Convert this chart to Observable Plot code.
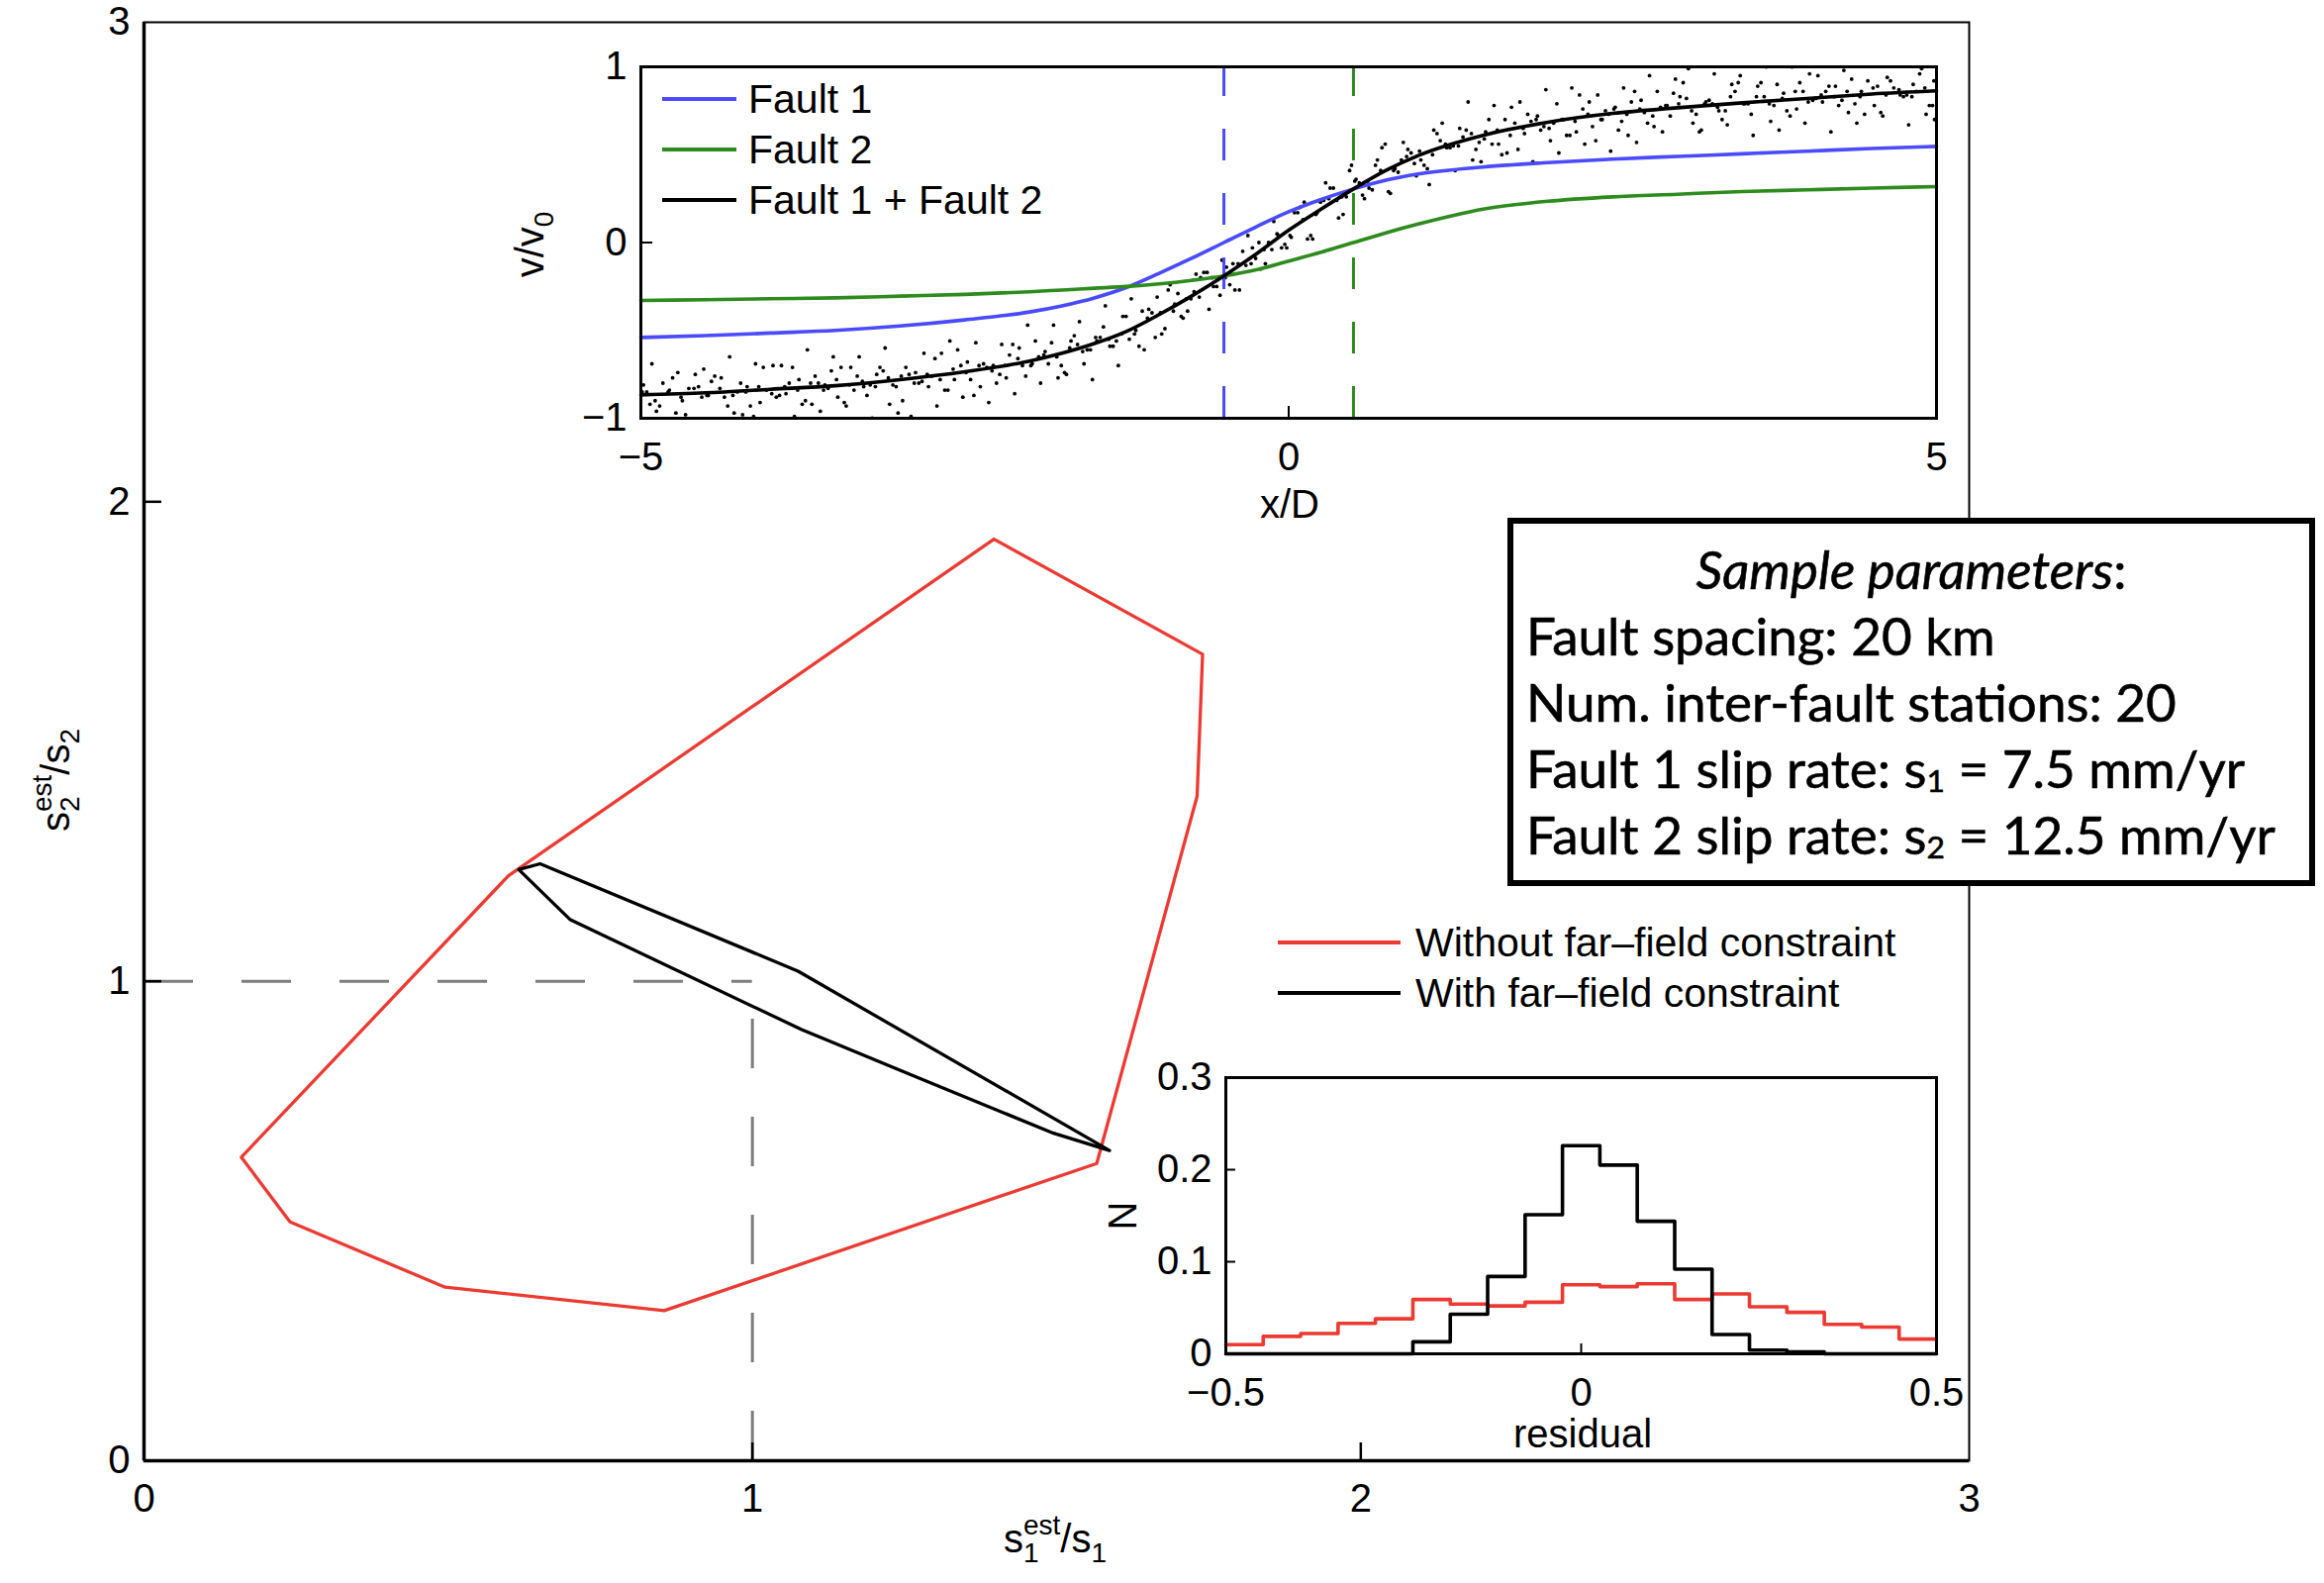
<!DOCTYPE html>
<html><head><meta charset="utf-8">
<script src="https://cdn.jsdelivr.net/npm/d3@7"></script>
<script src="https://cdn.jsdelivr.net/npm/@observablehq/plot@0.6"></script>
<style>
html,body{margin:0;padding:0;background:#fff;}
#wrap{position:relative;width:2348px;height:1599px;overflow:hidden;background:#fff;}
#wrap svg{position:absolute;left:0;top:0;max-width:none;}
.leg{position:absolute;display:flex;align-items:center;height:44px;font-family:"Liberation Sans",Arial,sans-serif;font-size:41px;color:#000;white-space:nowrap;}
.leg span.ln{display:inline-block;height:3.5px;}
.box{position:absolute;left:1523px;top:523px;width:816px;height:372px;box-sizing:border-box;border:6px solid #000;background:#fff;
 font-family:Lato,"Open Sans",sans-serif;font-size:53px;line-height:67px;color:#000;padding:12px 0 0 13px;white-space:nowrap;
 -webkit-text-stroke:0.6px #000;}
.box .t{text-align:center;font-style:italic;padding-right:13px;}
.box sub{font-size:0.6em;vertical-align:-0.12em;line-height:0;}
</style>
</head><body>
<div id="wrap"></div>
<script>
// ---------------- data ----------------
// main panel: estimated slip-rate ratio regions
const mainTicks = [0, 1, 2, 3];
const withoutS1 = [1.397, 1.740, 1.731, 1.566, 0.855, 0.495, 0.240, 0.160, 0.599];
const withoutS2 = [1.922, 1.682, 1.386, 0.620, 0.313, 0.362, 0.498, 0.633, 1.220];
const withS1 = [0.616, 0.651, 1.075, 1.587, 1.495, 1.266, 1.081, 0.700];
const withS2 = [1.233, 1.245, 1.021, 0.647, 0.683, 0.802, 0.899, 1.129];
const trueRatio = [1, 1];

// top inset: velocity profiles
const profileX = [-5,-4.5,-4,-3.5,-3,-2.5,-2,-1.75,-1.5,-1.25,-1,-0.75,-0.5,-0.25,0,0.25,0.5,0.75,1,1.5,2,2.5,3,3.5,4,4.5,5];
const fault1V = [-0.54,-0.53,-0.515,-0.50,-0.475,-0.44,-0.395,-0.36,-0.315,-0.255,-0.175,-0.09,0.0,0.09,0.175,0.245,0.305,0.355,0.39,0.43,0.455,0.475,0.49,0.505,0.52,0.535,0.547];
const fault2V = [-0.33,-0.325,-0.32,-0.315,-0.305,-0.295,-0.28,-0.27,-0.26,-0.25,-0.235,-0.215,-0.19,-0.155,-0.105,-0.055,0.0,0.055,0.105,0.19,0.235,0.26,0.275,0.29,0.30,0.31,0.318];
const sumV = [-0.867,-0.855,-0.835,-0.815,-0.78,-0.735,-0.675,-0.63,-0.575,-0.505,-0.41,-0.305,-0.19,-0.065,0.07,0.19,0.305,0.41,0.495,0.61,0.685,0.735,0.767,0.795,0.82,0.845,0.863];
const faultLocations = [-0.5, 0.5];
const insetXTicks = [-5, 0, 5];
const insetYTicks = [-1, 0, 1];
const stations = [
[-4.98,-0.81],[-4.955,-0.85],[-4.93,-0.92],[-4.88,-0.96],[-4.855,-0.93],[-4.83,-0.80],[-4.78,-0.84],[-4.755,-0.77],[-4.73,-0.97],
[-4.68,-0.90],[-4.655,-0.98],[-4.63,-0.83],[-4.58,-0.75],[-4.555,-0.82],[-4.53,-0.88],[-4.48,-0.87],[-4.455,-0.79],[-4.43,-0.76],
[-4.38,-0.77],[-4.355,-0.88],[-4.33,-0.93],[-4.28,-0.97],[-4.255,-0.85],[-4.23,-0.80],[-4.18,-0.82],[-4.155,-0.93],[-4.13,-0.99],
[-4.08,-0.91],[-4.055,-0.71],[-4.03,-0.84],[-3.98,-0.70],[-3.955,-0.88],[-3.93,-0.87],[-3.88,-0.86],[-3.855,-0.80],[-3.83,-0.71],
[-3.78,-0.78],[-3.755,-0.92],[-3.73,-0.90],[-3.68,-0.92],[-3.655,-0.76],[-3.63,-0.80],[-3.58,-0.81],[-3.555,-0.83],[-3.53,-0.73],
[-3.48,-0.88],[-3.455,-0.71],[-3.43,-0.91],[-3.38,-0.71],[-3.355,-0.84],[-3.33,-0.76],[-3.28,-0.82],[-3.255,-0.87],[-3.23,-0.81],
[-3.18,-0.75],[-3.155,-0.71],[-3.13,-0.73],[-3.08,-0.92],[-3.055,-0.81],[-3.03,-0.82],[-2.98,-0.90],[-2.955,-0.71],[-2.93,-0.75],
[-2.88,-0.74],[-2.855,-0.80],[-2.83,-0.79],[-2.78,-0.82],[-2.755,-0.76],[-2.73,-0.66],[-2.68,-0.63],[-2.655,-0.84],[-2.63,-0.84],
[-2.58,-0.78],[-2.555,-0.61],[-2.53,-0.70],[-2.48,-0.68],[-2.455,-0.78],[-2.43,-0.87],[-2.38,-0.82],[-2.355,-0.69],[-2.33,-0.71],
[-2.28,-0.70],[-2.255,-0.80],[-2.23,-0.75],[-2.18,-0.77],[-2.155,-0.64],[-2.13,-0.58],[-2.08,-0.60],[-2.055,-0.70],[-2.03,-0.76],
[-1.98,-0.69],[-1.955,-0.56],[-1.93,-0.65],[-1.88,-0.62],[-1.855,-0.69],[-1.83,-0.57],[-1.78,-0.77],[-1.755,-0.70],[-1.73,-0.74],
[-1.68,-0.56],[-1.655,-0.53],[-1.63,-0.58],[-1.58,-0.69],[-1.555,-0.61],[-1.53,-0.61],[-1.48,-0.56],[-1.455,-0.54],[-1.43,-0.48],
[-1.38,-0.59],[-1.355,-0.59],[-1.33,-0.56],[-1.28,-0.42],[-1.255,-0.42],[-1.23,-0.55],[-1.18,-0.50],[-1.155,-0.59],[-1.13,-0.39],
[-1.08,-0.38],[-1.055,-0.40],[-1.03,-0.54],[-0.98,-0.52],[-0.955,-0.49],[-0.93,-0.27],[-0.88,-0.35],[-0.855,-0.29],[-0.83,-0.42],
[-0.78,-0.39],[-0.755,-0.32],[-0.73,-0.28],[-0.68,-0.20],[-0.655,-0.17],[-0.63,-0.17],[-0.58,-0.25],[-0.555,-0.25],[-0.53,-0.30],
[-0.48,-0.14],[-0.455,-0.24],[-0.43,-0.12],[-0.38,-0.27],[-0.355,-0.05],[-0.33,-0.13],[-0.28,-0.03],[-0.255,-0.09],[-0.23,0.00],
[-0.18,-0.12],[-0.155,0.00],[-0.13,-0.04],[-0.08,0.04],[-0.055,-0.03],[-0.03,-0.01],[0.02,0.03],[0.045,0.17],[0.07,0.17],
[0.12,0.23],[0.145,0.02],[0.17,0.04],[0.22,0.17],[0.245,0.23],[0.27,0.24],[0.32,0.31],[0.345,0.31],[0.37,0.24],
[0.42,0.16],[0.445,0.26],[0.47,0.41],[0.52,0.36],[0.545,0.34],[0.57,0.27],[0.62,0.31],[0.645,0.30],[0.67,0.44],
[0.72,0.54],[0.745,0.56],[0.77,0.29],[0.82,0.42],[0.845,0.40],[0.87,0.47],[0.92,0.53],[0.945,0.51],[0.97,0.45],
[1.02,0.47],[1.045,0.44],[1.07,0.42],[1.12,0.64],[1.145,0.62],[1.17,0.58],[1.22,0.54],[1.245,0.54],[1.27,0.55],
[1.32,0.65],[1.345,0.60],[1.37,0.64],[1.42,0.47],[1.445,0.53],[1.47,0.57],[1.52,0.63],[1.545,0.70],[1.57,0.56],
[1.62,0.56],[1.645,0.50],[1.67,0.70],[1.72,0.77],[1.745,0.68],[1.77,0.53],[1.82,0.62],[1.845,0.73],[1.87,0.69],
[1.92,0.72],[1.945,0.64],[1.97,0.66],[2.02,0.58],[2.045,0.68],[2.07,0.79],[2.12,0.70],[2.145,0.61],[2.17,0.61],
[2.22,0.63],[2.245,0.84],[2.27,0.76],[2.32,0.80],[2.345,0.66],[2.37,0.58],[2.42,0.70],[2.445,0.75],[2.47,0.73],
[2.52,0.77],[2.545,0.64],[2.57,0.69],[2.62,0.61],[2.645,0.80],[2.67,0.86],[2.72,0.81],[2.745,0.74],[2.77,0.68],
[2.82,0.66],[2.845,0.86],[2.87,0.77],[2.92,0.78],[2.945,0.72],[2.97,0.85],[3.02,0.83],[3.045,0.91],[3.07,0.82],
[3.12,0.68],[3.145,0.73],[3.17,0.63],[3.22,0.80],[3.245,0.81],[3.27,0.79],[3.32,0.75],[3.345,0.70],[3.37,0.75],
[3.42,0.90],[3.445,0.86],[3.47,0.91],[3.52,0.79],[3.545,0.79],[3.57,0.73],[3.62,0.89],[3.645,0.91],[3.67,0.83],
[3.72,0.69],[3.745,0.78],[3.77,0.90],[3.82,0.85],[3.845,0.75],[3.87,0.72],[3.92,0.76],[3.945,0.91],[3.97,0.86],
[4.02,0.96],[4.045,0.81],[4.07,0.82],[4.12,0.80],[4.145,0.86],[4.17,0.89],[4.22,0.89],[4.245,0.78],[4.27,0.81],
[4.32,0.74],[4.345,0.93],[4.37,0.79],[4.42,0.86],[4.445,0.73],[4.47,0.92],[4.52,0.78],[4.545,0.89],[4.57,0.74],
[4.62,0.94],[4.645,0.92],[4.67,0.88],[4.72,0.84],[4.745,0.83],[4.77,0.84],[4.82,0.90],[4.845,0.86],[4.87,0.96],
[4.92,0.73],[4.945,0.78],[4.97,0.78],[4.98,0.92],
// wider-scatter stations
[-4.915,-0.69],[-4.815,-1.02],[-4.715,-0.74],[-4.615,-1.07],[-4.515,-0.72],[-4.415,-1.03],[-4.315,-0.65],[-4.215,-0.98],[-4.115,-0.69],[-4.015,-1.04],
[-3.915,-0.70],[-3.815,-0.99],[-3.715,-0.61],[-3.615,-0.96],[-3.515,-0.65],[-3.415,-0.93],[-3.315,-0.65],[-3.215,-1.00],[-3.115,-0.60],[-3.015,-0.97],
[-2.915,-0.99],[-2.815,-0.63],[-2.715,-0.93],[-2.615,-0.56],[-2.515,-0.88],[-2.415,-0.57],[-2.315,-0.91],[-2.215,-0.58],[-2.115,-0.86],[-2.015,-0.47],
[-1.915,-0.80],[-1.815,-0.47],[-1.715,-0.75],[-1.615,-0.45],[-1.515,-0.78],[-1.415,-0.36],[-1.315,-0.70],[-1.215,-0.32],[-1.115,-0.61],[-1.015,-0.31],
[-0.915,-0.24],[-0.815,-0.43],[-0.715,-0.18],[-0.615,-0.38],[-0.515,-0.10],[-0.415,-0.27],[-0.315,0.04],[-0.215,-0.15],[-0.115,0.12],[-0.015,-0.03],
[0.085,0.20],[0.185,0.02],[0.285,0.34],[0.385,0.14],[0.485,0.44],[0.585,0.25],[0.685,0.47],[0.785,0.28],[0.885,0.57],[0.985,0.38],
[1.085,0.33],[1.185,0.68],[1.285,0.41],[1.385,0.80],[1.485,0.46],[1.585,0.78],[1.685,0.51],[1.785,0.80],[1.885,0.46],[1.985,0.87],
[2.085,0.51],[2.185,0.88],[2.285,0.56],[2.385,0.84],[2.485,0.52],[2.585,0.88],[2.685,0.57],[2.785,0.95],[2.885,0.63],[2.985,0.93],
[3.085,0.99],[3.185,0.64],[3.285,0.96],[3.385,0.67],[3.485,0.95],[3.585,0.61],[3.685,1.00],[3.785,0.64],[3.885,1.00],[3.985,0.68],
[4.085,0.95],[4.185,0.63],[4.285,0.98],[4.385,0.68],[4.485,1.05],[4.585,0.72],[4.685,1.02],[4.785,0.67],[4.885,0.99],[4.985,0.70],
// near-curve stations
[-4.99,-0.85],[-4.89,-0.90],[-4.79,-0.85],[-4.69,-0.88],[-4.59,-0.83],[-4.49,-0.87],[-4.39,-0.83],[-4.29,-0.87],[-4.19,-0.85],[-4.09,-0.82],
[-3.99,-0.86],[-3.89,-0.82],[-3.79,-0.84],[-3.69,-0.80],[-3.59,-0.84],[-3.49,-0.78],[-3.39,-0.81],[-3.29,-0.79],[-3.19,-0.82],[-3.09,-0.77],
[-2.99,-0.76],[-2.89,-0.80],[-2.79,-0.75],[-2.69,-0.78],[-2.59,-0.72],[-2.49,-0.74],[-2.39,-0.70],[-2.29,-0.73],[-2.19,-0.70],[-2.09,-0.66],
[-1.99,-0.70],[-1.89,-0.64],[-1.79,-0.65],[-1.69,-0.60],[-1.59,-0.62],[-1.49,-0.54],[-1.39,-0.55],[-1.29,-0.52],[-1.19,-0.52],[-1.09,-0.43],
[-0.99,-0.40],[-0.89,-0.39],[-0.79,-0.32],[-0.69,-0.31],[-0.59,-0.20],[-0.49,-0.20],[-0.39,-0.12],[-0.29,-0.12],[-0.19,-0.04],[-0.09,0.05],
[0.01,0.04],[0.11,0.13],[0.21,0.16],[0.31,0.25],[0.41,0.26],[0.51,0.35],[0.61,0.35],[0.71,0.41],[0.81,0.41],[0.91,0.49],
[1.01,0.52],[1.11,0.50],[1.21,0.56],[1.31,0.55],[1.41,0.62],[1.51,0.59],[1.61,0.64],[1.71,0.61],[1.81,0.65],[1.91,0.70],
[2.01,0.65],[2.11,0.70],[2.21,0.69],[2.31,0.73],[2.41,0.70],[2.51,0.76],[2.61,0.73],[2.71,0.76],[2.81,0.72],[2.91,0.78],
[3.01,0.79],[3.11,0.75],[3.21,0.79],[3.31,0.77],[3.41,0.83],[3.51,0.79],[3.61,0.83],[3.71,0.79],[3.81,0.82],[3.91,0.86],
[4.01,0.80],[4.11,0.84],[4.21,0.83],[4.31,0.86],[4.41,0.83],[4.51,0.88],[4.61,0.84],[4.71,0.87],[4.81,0.83],[4.91,0.88]
];

// bottom inset: residual histograms
const binEdges = [-0.5,-0.4474,-0.3947,-0.3421,-0.2895,-0.2368,-0.1842,-0.1316,-0.0789,-0.0263,0.0263,0.0789,0.1316,0.1842,0.2368,0.2895,0.3421,0.3947,0.4474,0.5];
const histWithout = [0.010,0.019,0.022,0.033,0.038,0.059,0.054,0.052,0.056,0.075,0.073,0.076,0.059,0.065,0.051,0.045,0.032,0.029,0.016];
const histWith = [0,0,0,0,0,0.013,0.043,0.084,0.151,0.226,0.205,0.144,0.092,0.021,0.004,0.002,0,0,0];
const histXTicks = [-0.5, 0, 0.5];
const histYTicks = [0, 0.1, 0.2, 0.3];

// ---------------- styling ----------------
const RED = "#ec3a33", BLUE = "#4a4aff", GREEN = "#2e8b1e", GRAY = "#7d7d7d";
const W = 2348, H = 1599;
const FONT = '"Liberation Sans", Arial, Helvetica, sans-serif';
const fmt = d => (d < 0 ? "\u2212" : "") + String(Math.abs(d));
const wrap = document.getElementById("wrap");

const closed = (xs, ys) => { const a = xs.map((x, i) => ({x, y: ys[i]})); a.push(a[0]); return a; };
const steps = (edges, h) => { const a = h.map((v, i) => ({x: edges[i], y: v})); a.push({x: edges[edges.length - 1], y: h[h.length - 1]}); return a; };

function richText(svg, x, y, rot, parts, size) {
  const t = d3.select(svg).append("text")
    .attr("transform", `translate(${x},${y}) rotate(${rot})`)
    .attr("text-anchor", "middle").attr("font-family", FONT)
    .attr("font-size", size).attr("fill", "black");
  for (const p of parts) {
    const s = t.append("tspan").text(p.t);
    if (p.size) s.attr("font-size", p.size);
    if (p.dx) s.attr("dx", p.dx);
    if (p.dy) s.attr("dy", p.dy);
  }
}

function axesMarks(xTicks, yTicks, pad) {
  return [
    Plot.axisX(xTicks, {tickSize: 0, tickPadding: pad, tickFormat: fmt, label: null, fontSize: 40}),
    Plot.axisY(yTicks, {tickSize: 0, tickPadding: 14, tickFormat: fmt, label: null, fontSize: 40})
  ];
}

// ---------------- main panel ----------------
const mL = 145, mR = 359, mT = 22, mB = 124;
const mainSvg = Plot.plot({
  width: W, height: H, marginLeft: mL, marginRight: mR, marginTop: mT, marginBottom: mB,
  x: {domain: [0, 3]}, y: {domain: [0, 3]},
  style: {fontFamily: FONT, fontSize: "40px", background: "transparent", color: "black", overflow: "visible"},
  marks: [
    Plot.ruleY([trueRatio[1]], {x1: 0, x2: trueRatio[0], stroke: GRAY, strokeWidth: 3, strokeDasharray: "50,49"}),
    Plot.ruleX([trueRatio[0]], {y1: 0, y2: trueRatio[1], stroke: GRAY, strokeWidth: 3, strokeDasharray: "50,49"}),
    Plot.line(closed(withoutS1, withoutS2), {x: "x", y: "y", stroke: RED, strokeWidth: 3.3, curve: "linear"}),
    Plot.line(closed(withS1, withS2), {x: "x", y: "y", stroke: "black", strokeWidth: 3.3, curve: "linear"}),
    Plot.frame({stroke: "black", strokeWidth: 2}),
    Plot.ruleX([0], {stroke: "black", strokeWidth: 3.5}),
    Plot.ruleY([0], {stroke: "black", strokeWidth: 3.5}),
    Plot.tickX(mainTicks.slice(1, 3), {x: d => d, stroke: "black", strokeWidth: 2.5, insetTop: (H - mT - mB) - 18}),
    Plot.tickY(mainTicks.slice(1, 3), {y: d => d, stroke: "black", strokeWidth: 2.5, insetRight: (W - mL - mR) - 18}),
    ...axesMarks(mainTicks, mainTicks, 23)
  ]
});
wrap.appendChild(mainSvg);
richText(mainSvg, 1066, 1568, 0, [
  {t: "s"}, {t: "1", size: 28, dy: 10}, {t: "est", size: 28, dx: -15.6, dy: -28}, {t: "/s", dy: 18}, {t: "1", size: 28, dy: 10}
], 40);
richText(mainSvg, 70, 788, -90, [
  {t: "s"}, {t: "2", size: 28, dy: 10}, {t: "est", size: 28, dx: -15.6, dy: -28}, {t: "/s", dy: 18}, {t: "2", size: 28, dy: 10}
], 40);

// ---------------- top inset ----------------
const tL = 647, tR = W - 1956, tT = 67, tB = H - 422;
const prof = (vals) => profileX.map((x, i) => ({x, y: vals[i]}));
const topSvg = Plot.plot({
  width: W, height: H, marginLeft: tL, marginRight: tR, marginTop: tT, marginBottom: tB,
  x: {domain: [-5, 5]}, y: {domain: [-1, 1]},
  style: {fontFamily: FONT, fontSize: "40px", background: "transparent", color: "black", overflow: "visible"},
  marks: [
    Plot.frame({fill: "white", stroke: null}),
    Plot.dot(stations, {x: d => d[0], y: d => d[1], r: 1.9, fill: "black", stroke: null, clip: true}),
    Plot.ruleX([faultLocations[0]], {y1: -1, y2: 1, stroke: BLUE, strokeWidth: 3, strokeDasharray: "32,33"}),
    Plot.ruleX([faultLocations[1]], {y1: -1, y2: 1, stroke: GREEN, strokeWidth: 3, strokeDasharray: "32,33"}),
    Plot.line(prof(fault1V), {x: "x", y: "y", stroke: BLUE, strokeWidth: 3.6, curve: "monotone-x"}),
    Plot.line(prof(fault2V), {x: "x", y: "y", stroke: GREEN, strokeWidth: 3.6, curve: "monotone-x"}),
    Plot.line(prof(sumV), {x: "x", y: "y", stroke: "black", strokeWidth: 3.6, curve: "monotone-x"}),
    Plot.frame({stroke: "black", strokeWidth: 3}),
    Plot.tickX([0], {x: d => d, stroke: "black", strokeWidth: 2, insetTop: (H - tT - tB) - 12}),
    Plot.tickY([0], {y: d => d, stroke: "black", strokeWidth: 2, insetRight: (W - tL - tR) - 12}),
    ...axesMarks(insetXTicks, insetYTicks, 24)
  ]
});
wrap.appendChild(topSvg);
richText(topSvg, 1303, 523, 0, [{t: "x/D"}], 40);
richText(topSvg, 549, 247, -90, [{t: "v/v"}, {t: "0", size: 28, dy: 10}], 40);

// ---------------- bottom inset ----------------
const bL = 1238, bR = W - 1956, bT = 1088, bB = H - 1367;
const botSvg = Plot.plot({
  width: W, height: H, marginLeft: bL, marginRight: bR, marginTop: bT, marginBottom: bB,
  x: {domain: [-0.5, 0.5]}, y: {domain: [0, 0.3]},
  style: {fontFamily: FONT, fontSize: "40px", background: "transparent", color: "black", overflow: "visible"},
  marks: [
    Plot.frame({fill: "white", stroke: null}),
    Plot.line(steps(binEdges, histWithout), {x: "x", y: "y", stroke: RED, strokeWidth: 3.6, curve: "step-after"}),
    Plot.line(steps(binEdges, histWith), {x: "x", y: "y", stroke: "black", strokeWidth: 3.6, curve: "step-after"}),
    Plot.frame({stroke: "black", strokeWidth: 3}),
    Plot.tickX([0], {x: d => d, stroke: "black", strokeWidth: 2, insetTop: (H - bT - bB) - 10}),
    Plot.tickY([0.1, 0.2], {y: d => d, stroke: "black", strokeWidth: 2, insetRight: (W - bL - bR) - 10}),
    ...axesMarks(histXTicks, histYTicks, 24)
  ]
});
wrap.appendChild(botSvg);
richText(botSvg, 1599, 1462, 0, [{t: "residual"}], 40);
richText(botSvg, 1148, 1228, -90, [{t: "N"}], 40);

// ---------------- legends & parameter box ----------------
function legendRow(left, cy, color, lineW, gap, label) {
  const d = document.createElement("div");
  d.className = "leg";
  d.style.left = left + "px"; d.style.top = (cy - 22) + "px";
  d.innerHTML = `<span class="ln" style="width:${lineW}px;background:${color};margin-right:${gap}px"></span><span>${label}</span>`;
  wrap.appendChild(d);
}
const insetLegend = [["Fault 1", BLUE], ["Fault 2", GREEN], ["Fault 1 + Fault 2", "black"]];
insetLegend.forEach(([lab, c], i) => legendRow(669, 100 + i * 51, c, 75, 12, lab));
const mainLegend = [["Without far\u2013field constraint", RED], ["With far\u2013field constraint", "black"]];
mainLegend.forEach(([lab, c], i) => legendRow(1291, 952 + i * 51, c, 124, 15, lab));

const paramLines = [
  "Fault spacing: 20 km",
  "Num. inter-fault stations: 20",
  "Fault 1 slip rate: s<sub>1</sub> = 7.5 mm/yr",
  "Fault 2 slip rate: s<sub>2</sub> = 12.5 mm/yr"
];
const box = document.createElement("div");
box.className = "box";
box.innerHTML = `<div class="t">Sample parameters<span style="font-style:normal">:</span></div>` + paramLines.map(l => `<div>${l}</div>`).join("");
wrap.appendChild(box);
</script>
</body></html>
